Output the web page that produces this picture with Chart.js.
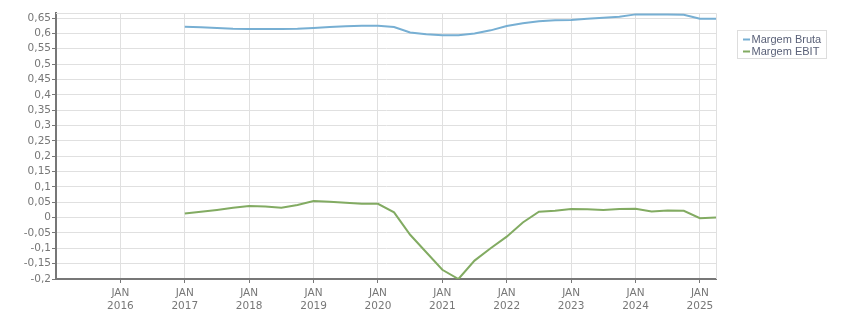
<!DOCTYPE html>
<html>
<head>
<meta charset="utf-8">
<script src="https://cdn.jsdelivr.net/npm/chart.js@4"></script>
<style>
html,body{margin:0;padding:0;background:#fff;}
canvas{display:block;}
</style>
</head>
<body>
<canvas id="c" width="851" height="313"></canvas>
<script>
// Quarterly observation dates
const dates = ['2017-01','2017-04','2017-07','2017-10','2018-01','2018-04','2018-07','2018-10',
  '2019-01','2019-04','2019-07','2019-10','2020-01','2020-04','2020-07','2020-10',
  '2021-01','2021-04','2021-07','2021-10','2022-01','2022-04','2022-07','2022-10',
  '2023-01','2023-04','2023-07','2023-10','2024-01','2024-04','2024-07','2024-10',
  '2025-01','2025-04'];
const seriesNames = ['Margem Bruta','Margem EBIT'];
const margemBruta = [0.622,0.620,0.618,0.615,0.614,0.614,0.614,0.615,
  0.618,0.621,0.623,0.625,0.625,0.621,0.603,0.597,
  0.594,0.594,0.600,0.610,0.624,0.633,0.640,0.643,
  0.644,0.648,0.651,0.654,0.662,0.662,0.662,0.661,
  0.648,0.648];
const margemEbit = [0.013,0.019,0.025,0.032,0.038,0.036,0.032,0.041,
  0.054,0.052,0.048,0.045,0.045,0.017,-0.056,-0.113,
  -0.170,-0.200,-0.140,-0.100,-0.062,-0.016,0.019,0.022,
  0.028,0.027,0.025,0.028,0.029,0.020,0.023,0.022,
  -0.002,0.000];
const yTickValues = [-0.2,-0.15,-0.1,-0.05,0,0.05,0.1,0.15,0.2,0.25,0.3,0.35,0.4,0.45,0.5,0.55,0.6,0.65];
const tickYears = [2016,2017,2018,2019,2020,2021,2022,2023,2024,2025];
const tickMonthLabel = 'JAN';
const baseYear = 2015;

function toMonth(d){ const [y,m]=d.split('-').map(Number); return (y-baseYear)*12 + (m-1); }

const colors = ['#77afd3','#82ab62'];
const FONT = 'DejaVu Sans';

const frame = {
  id:'frame',
  beforeDatasetsDraw(chart){
    const {ctx, chartArea:a} = chart;
    ctx.save();
    ctx.strokeStyle = '#e0e0e0'; ctx.lineWidth = 1;
    ctx.beginPath();
    ctx.moveTo(a.left, a.top+0.5); ctx.lineTo(a.right+0.5, a.top+0.5);
    ctx.lineTo(a.right+0.5, a.bottom);
    ctx.stroke();
    ctx.restore();
  },
  afterDraw(chart){
    const ctx = chart.ctx;
    ctx.save();
    const bx = 737.5, by = 30.5, bw = 89, bh = 28;
    ctx.fillStyle = '#fff'; ctx.fillRect(bx,by,bw,bh);
    ctx.strokeStyle = '#dddddd'; ctx.lineWidth = 1; ctx.strokeRect(bx,by,bw,bh);
    ctx.font = '11px "Liberation Sans"';
    ctx.textBaseline = 'middle';
    chart.data.datasets.forEach((ds,i)=>{
      const yy = 39.5 + i*12;
      ctx.strokeStyle = ds.borderColor; ctx.lineWidth = 2;
      ctx.beginPath(); ctx.moveTo(743, yy); ctx.lineTo(750, yy); ctx.stroke();
      ctx.fillStyle = '#5a6178';
      ctx.fillText(ds.label, 751.5, yy+0.5);
    });
    ctx.restore();
  }
};

new Chart(document.getElementById('c'), {
  type:'line',
  data:{
    datasets:[
      {label:seriesNames[0], data:dates.map((d,i)=>({x:toMonth(d), y:margemBruta[i]})),
       borderColor:colors[0], backgroundColor:colors[0], borderWidth:2, pointRadius:0, tension:0},
      {label:seriesNames[1], data:dates.map((d,i)=>({x:toMonth(d), y:margemEbit[i]})),
       borderColor:colors[1], backgroundColor:colors[1], borderWidth:2, pointRadius:0, tension:0}
    ]
  },
  options:{
    responsive:false, animation:false,
    layout:{padding:{top:13,right:135,bottom:0,left:0}},
    plugins:{legend:{display:false}, tooltip:{enabled:false}},
    scales:{
      x:{type:'linear', min:0, max:123,
        afterBuildTicks(s){ s.ticks = tickYears.map(y=>({value:(y-baseYear)*12})); },
        afterFit(s){ s.height = 34; },
        grid:{color:'#e0e0e0', tickColor:'#777', tickLength:4, lineWidth:1},
        border:{color:'#777', width:2},
        ticks:{padding:4, color:'#777', font:{family:FONT,size:10.5,lineHeight:1.25}, autoSkip:false, maxRotation:0,
          callback(v){ return [tickMonthLabel, String(baseYear + v/12)]; }}
      },
      y:{min:-0.2, max:0.6665,
        afterBuildTicks(s){ s.ticks = yTickValues.map(v=>({value:v})); },
        afterFit(s){ s.width = 56; },
        grid:{color:'#e0e0e0', tickColor:'#777', tickLength:4, lineWidth:1},
        border:{color:'#777', width:2},
        ticks:{padding:1, color:'#777', font:{family:FONT,size:10.5},
          callback(v){ let r = Math.round(v*100)/100; return String(r).replace('.',','); }}
      }
    }
  },
  plugins:[frame]
});
</script>
</body>
</html>
